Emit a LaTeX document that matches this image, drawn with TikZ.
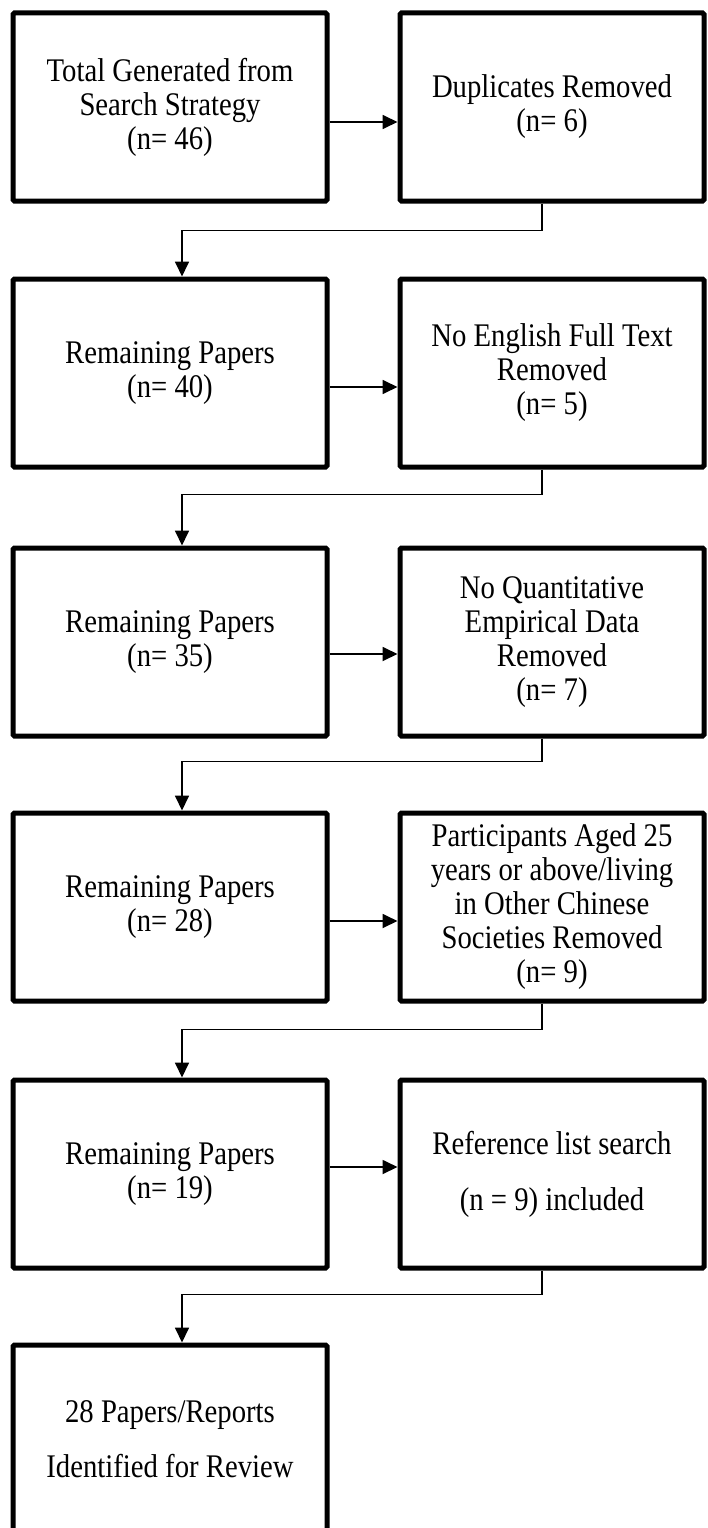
\documentclass[tikz,border=0pt]{standalone}
\usepackage{fontspec}
\setmainfont{Liberation Serif}[FakeStretch=0.87]
\usetikzlibrary{arrows.meta}
\tikzset{
  stagebox/.style={draw,line width=5pt,rounded corners=1.5pt,align=center,
    inner sep=0pt,font=\fontsize{33}{34}\selectfont},
  leftbox/.style={stagebox,minimum width=314pt,minimum height=188pt},
  rightbox/.style={stagebox,minimum width=304pt,minimum height=188pt},
  flow/.style={line width=1.8pt,-{Triangle[length=15pt,width=14pt]}}
}
\begin{document}
\begin{tikzpicture}[x=1pt,y=-1pt]
        \useasboundingbox (0,0) rectangle (707,1528);

        \node[leftbox] (total) at (170,107) {Total Generated from\\Search Strategy\\(n= 46)};
        \node[rightbox] (dupl) at (552,107) {Duplicates Removed\\(n= 6)};
        \node[leftbox] (rem40) at (170,373) {Remaining Papers\\(n= 40)};
        \node[rightbox] (noeng) at (552,373) {No English Full Text\\Removed\\(n= 5)};
        \node[leftbox] (rem35) at (170,642) {Remaining Papers\\(n= 35)};
        \node[rightbox] (noquant) at (552,642) {No Quantitative\\Empirical Data\\Removed\\(n= 7)};
        \node[leftbox] (rem28) at (170,907) {Remaining Papers\\(n= 28)};
        \node[rightbox] (partic) at (552,907) {Participants Aged 25\\years or above/living\\in Other Chinese\\Societies Removed\\(n= 9)};
        \node[leftbox] (rem19) at (170,1174) {Remaining Papers\\(n= 19)};
        \node[rightbox] (reflist) at (552,1174) {Reference list search\\[22pt](n = 9) included};
        \node[leftbox] (final) at (170,1439) {28 Papers/Reports\\[21pt]Identified for Review};

        \draw[flow] ([yshift=-15pt]total.east) -- ([yshift=-15pt]total.east -| dupl.west);
        \draw[flow] ([yshift=-14pt]rem40.east) -- ([yshift=-14pt]rem40.east -| noeng.west);
        \draw[flow] ([yshift=-12pt]rem35.east) -- ([yshift=-12pt]rem35.east -| noquant.west);
        \draw[flow] ([yshift=-14pt]rem28.east) -- ([yshift=-14pt]rem28.east -| partic.west);
        \draw[flow] ([yshift=7pt]rem19.east) -- ([yshift=7pt]rem19.east -| reflist.west);

        \draw[flow] ([xshift=-10pt]dupl.south) -- ++(0,27) -| ([xshift=12pt]rem40.north);
        \draw[flow] ([xshift=-10pt]noeng.south) -- ++(0,25) -| ([xshift=12pt]rem35.north);
        \draw[flow] ([xshift=-10pt]noquant.south) -- ++(0,23) -| ([xshift=12pt]rem28.north);
        \draw[flow] ([xshift=-10pt]partic.south) -- ++(0,26) -| ([xshift=12pt]rem19.north);
        \draw[flow] ([xshift=-10pt]reflist.south) -- ++(0,24) -| ([xshift=12pt]final.north);
    \end{tikzpicture}
\end{document}
